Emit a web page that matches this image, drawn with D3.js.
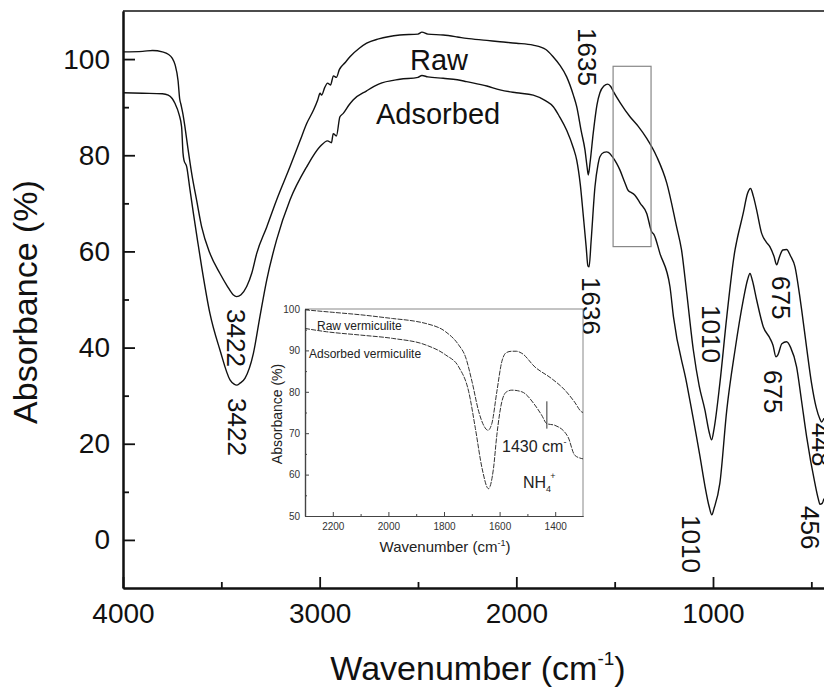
<!DOCTYPE html>
<html>
<head>
<meta charset="utf-8">
<script src="https://cdn.jsdelivr.net/npm/d3@7"></script>
<style>
  html, body { margin: 0; padding: 0; background: #fff; }
  svg { display: block; }
  text { font-family: "Liberation Sans", Arial, sans-serif; }
</style>
</head>
<body>
<svg id="chart" width="824" height="687"></svg>
<script>
// ---------------- DATA ----------------
// Main spectrum: wavenumber (cm-1) and absorbance (%)
const rawWn = [4000,3900,3850,3800,3770,3750,3735,3720,3712,3705,3695,3685,3670,3651,3625,3600,3558,3507,3470,3440,3422,3400,3371,3345,3320,3269,3219,3151,3100,3066,3030,3010,2998,2990,2975,2960,2945,2930,2915,2900,2870,2846,2800,2761,2700,2592,2500,2480,2450,2372,2300,2253,2150,2083,2000,1915,1850,1813,1780,1744,1710,1693,1670,1651,1640,1634,1625,1609,1590,1575,1555,1535,1520,1507,1470,1422,1380,1337,1286,1235,1185,1160,1134,1100,1070,1041,1020,1007,995,965,930,888,880,846,825,809,795,778,753,730,711,690,676,665,645,626,605,583,560,549,524,499,475,457,448,436];
const rawAbs = [101.5,101.6,101.8,101.5,101.0,100.2,98.8,95.5,91.8,90.5,88.5,85.9,81.5,76.3,70.5,65.1,59.6,55.4,52.8,51.0,50.6,51.0,52.7,55.5,59.6,65.1,70.7,77.6,83.0,86.6,89.5,91.5,92.9,92.5,94.0,95.0,94.6,96.5,96.2,97.8,99.3,100.5,102.2,103.3,104.2,105.0,105.2,105.6,105.2,105.0,104.6,104.3,103.9,103.6,103.3,102.9,102.0,100.5,98.8,96.3,92.5,90.1,85.0,81.1,77.5,75.9,78.5,84.6,90.5,93.0,94.4,94.8,94.3,93.3,90.8,88.0,86.0,83.5,79.7,74.2,65.1,60.3,51.5,39.5,32.0,27.0,22.5,20.8,23.0,32.6,46.4,60.3,62.0,68.0,72.0,73.1,71.5,68.6,63.8,62.0,61.0,59.0,57.2,58.5,60.3,60.4,59.0,56.8,51.0,47.8,40.0,32.6,27.5,25.2,24.5,25.3];

const adsWn = [4000,3900,3800,3770,3750,3736,3715,3702,3695,3690,3676,3660,3642,3620,3600,3558,3507,3456,3435,3422,3405,3380,3337,3304,3269,3219,3151,3066,2998,2960,2940,2931,2915,2897,2880,2850,2830,2761,2700,2592,2500,2480,2450,2372,2300,2253,2150,2083,2000,1914,1850,1812,1780,1744,1710,1693,1675,1659,1645,1636,1630,1620,1600,1585,1575,1555,1541,1532,1510,1490,1473,1450,1430,1422,1397,1370,1337,1312,1300,1270,1219,1201,1134,1066,1040,1020,1006,995,965,930,888,846,825,812,800,778,744,710,695,680,670,650,626,605,575,550,524,482,465,456,445,436];
const adsAbs = [93.0,92.9,92.8,92.5,91.8,90.8,88.5,85.9,80.5,79.0,77.6,73.0,67.9,62.0,56.8,47.1,39.5,33.3,32.4,32.2,32.6,33.6,38.8,46.4,54.1,62.4,70.7,77.6,81.8,83.0,82.6,84.5,84.0,88.0,88.7,90.5,91.5,93.4,94.8,95.8,96.2,96.6,96.3,96.0,95.7,95.3,94.4,93.6,93.0,92.5,91.3,90.1,88.0,85.2,81.5,79.0,74.0,67.2,61.0,57.0,56.8,62.0,73.5,78.0,79.7,80.6,80.7,80.6,79.6,78.3,76.9,74.5,72.6,72.4,71.7,70.0,67.9,64.1,63.5,59.6,52.7,46.4,32.6,17.3,11.0,7.0,5.2,6.5,11.8,27.0,39.5,49.9,54.0,55.4,54.0,49.9,44.3,41.9,40.5,38.1,38.5,40.8,41.2,40.0,36.0,29.0,21.5,11.8,8.6,7.4,7.6,8.6];

// Inset spectrum (2300-1300 cm-1)
const insetRawWn  = [2300,2200,2100,1985,1900,1865,1794,1747,1723,1699,1675,1655,1642,1628,1610,1592,1575,1556,1540,1520,1473,1413,1365,1330,1306,1300];
const insetRawAbs = [99.8,99.2,98.6,97.7,97.0,96.5,94.5,91.3,88.5,82.4,75.2,71.6,70.7,72.3,80.0,87.3,89.5,89.8,89.8,89.3,86.0,83.2,80.4,77.5,75.2,75.0];
const insetAdsWn  = [2300,2222,2100,1985,1865,1794,1747,1711,1687,1663,1640,1622,1610,1592,1575,1556,1520,1473,1449,1430,1401,1354,1330,1306,1300];
const insetAdsAbs = [95.3,94.5,93.7,92.9,91.3,88.9,86.0,80.0,71.1,61.5,56.6,61.5,69.5,77.6,80.0,80.4,80.0,76.8,74.4,72.3,71.9,69.1,64.7,63.9,63.8];
const insetMarkWn = 1430;
const insetMarkAbs = [71.1, 77.7];

// Ticks
const xMajorTicks = [4000,3000,2000,1000];
const xMinorTicks = [3500,2500,1500,500];
const yMajorTicks = [0,20,40,60,80,100];
const yMinorTicks = [10,30,50,70,90];
const insetXMajor = [2200,2000,1800,1600,1400];
const insetXMinor = [2100,1900,1700,1500];
const insetYMajor = [50,60,70,80,90,100];
const insetYMinor = [55,65,75,85,95];

// Labels
const seriesNames = ["Raw","Adsorbed"];
const insetSeriesNames = ["Raw vermiculite","Adsorbed vermiculite"];
const peakLabels = ["3422","3422","1635","1636","1010","1010","675","675","448","456"];
const xTitle = "Wavenumber (cm";
const yTitle = "Absorbance (%)";

// ---------------- DRAW ----------------
(function () {
const svg = d3.select("#chart");
const pL = 123, pB = 588, pT = 11, pR = 831;

const x = d3.scaleLinear().domain([4000, 400]).range([pL, pR]);
const y = d3.scaleLinear().domain([-10, 110]).range([pB, pT]);

svg.append("defs").append("clipPath").attr("id", "plotClip")
  .append("rect").attr("x", pL).attr("y", pT).attr("width", pR - pL).attr("height", pB - pT);

// top border
svg.append("line").attr("x1", pL).attr("x2", pR).attr("y1", y(110)).attr("y2", y(110))
  .attr("stroke", "#111").attr("stroke-width", 1.6);

function styleAxis(g, fs) {
  g.selectAll("path.domain").attr("stroke", "#111").attr("stroke-width", 2);
  g.selectAll(".tick line").attr("stroke", "#111").attr("stroke-width", 1.8);
  g.selectAll(".tick text").attr("fill", "#111").style("font-size", fs + "px")
    .style("font-family", '"Liberation Sans", Arial, sans-serif');
}
styleAxis(svg.append("g").attr("transform", `translate(${pL},0)`)
  .call(d3.axisLeft(y).tickValues(yMajorTicks).tickSize(-12).tickSizeOuter(0).tickPadding(13).tickFormat(d3.format("d"))), 28);
styleAxis(svg.append("g").attr("transform", `translate(${pL},0)`)
  .call(d3.axisLeft(y).tickValues(yMinorTicks).tickSize(-6).tickSizeOuter(0).tickFormat("")), 28);
styleAxis(svg.append("g").attr("transform", `translate(0,${pB})`)
  .call(d3.axisBottom(x).tickValues(xMajorTicks).tickSize(-11).tickSizeOuter(0).tickPadding(15).tickFormat(d3.format("d"))), 28);
styleAxis(svg.append("g").attr("transform", `translate(0,${pB})`)
  .call(d3.axisBottom(x).tickValues(xMinorTicks).tickSize(-6).tickSizeOuter(0).tickFormat("")), 28);

// curves
const line = d3.line().x(d => x(d[0])).y(d => y(d[1])).curve(d3.curveMonotoneX);
const plot = svg.append("g").attr("clip-path", "url(#plotClip)");
plot.append("path").datum(rawWn.map((w, i) => [w, rawAbs[i]]))
  .attr("d", line).attr("fill", "none").attr("stroke", "#111").attr("stroke-width", 1.4);
plot.append("path").datum(adsWn.map((w, i) => [w, adsAbs[i]]))
  .attr("d", line).attr("fill", "none").attr("stroke", "#111").attr("stroke-width", 1.4);

// highlight rectangle
svg.append("rect").attr("x", x(1508)).attr("y", y(98.5)).attr("width", x(1315) - x(1508)).attr("height", y(61) - y(98.5))
  .attr("fill", "none").attr("stroke", "#888").attr("stroke-width", 1.2);

// series labels
svg.append("text").attr("x", 410).attr("y", 70).style("font-size", "29px").attr("fill", "#111").text(seriesNames[0]);
svg.append("text").attr("x", 376).attr("y", 124).style("font-size", "29px").attr("fill", "#111").text(seriesNames[1]);

// peak labels, rotated 90deg
const peakPos = [[227,309],[228,398],[578,28],[582,277],[702,305],[682,515],[772,276],[764,370],[812,423],[801,506]];
peakLabels.forEach((t, i) => {
  svg.append("text").attr("transform", `translate(${peakPos[i][0]},${peakPos[i][1]}) rotate(90)`)
    .style("font-size", "26px").attr("fill", "#111").text(t);
});

// axis titles
const xt = svg.append("text").attr("x", 478).attr("y", 680).attr("text-anchor", "middle")
  .style("font-size", "34px").attr("fill", "#111");
xt.append("tspan").text(xTitle);
xt.append("tspan").attr("dy", -15).style("font-size", "19px").text("-1");
xt.append("tspan").attr("dy", 15).text(")");
svg.append("text").attr("transform", `translate(37,302) rotate(-90)`).attr("text-anchor", "middle")
  .style("font-size", "34px").attr("fill", "#111").text(yTitle);

// ---------------- INSET ----------------
const iL = 305, iR = 583, iT = 309, iB = 516;
const xi = d3.scaleLinear().domain([2300, 1300]).range([iL, iR]);
const yi = d3.scaleLinear().domain([50, 100]).range([iB, iT]);
const inset = svg.append("g");
inset.append("rect").attr("x", iL).attr("y", iT).attr("width", iR - iL).attr("height", iB - iT).attr("fill", "#fff");
inset.append("line").attr("x1", iL).attr("x2", iR).attr("y1", iT).attr("y2", iT).attr("stroke", "#888").attr("stroke-width", 1);
inset.append("line").attr("x1", iR).attr("x2", iR).attr("y1", iT).attr("y2", iB).attr("stroke", "#888").attr("stroke-width", 1);

function styleInset(g) {
  g.selectAll("path.domain").attr("stroke", "#444").attr("stroke-width", 1.2);
  g.selectAll(".tick line").attr("stroke", "#444").attr("stroke-width", 1);
  g.selectAll(".tick text").attr("fill", "#333").style("font-size", "10px")
    .style("font-family", '"Liberation Sans", Arial, sans-serif');
}
styleInset(inset.append("g").attr("transform", `translate(${iL},0)`)
  .call(d3.axisLeft(yi).tickValues(insetYMajor).tickSize(-4).tickSizeOuter(0).tickPadding(5).tickFormat(d3.format("d"))));
styleInset(inset.append("g").attr("transform", `translate(${iL},0)`)
  .call(d3.axisLeft(yi).tickValues(insetYMinor).tickSize(-2).tickSizeOuter(0).tickFormat("")));
styleInset(inset.append("g").attr("transform", `translate(0,${iB})`)
  .call(d3.axisBottom(xi).tickValues(insetXMajor).tickSize(-4).tickSizeOuter(0).tickPadding(7).tickFormat(d3.format("d"))));
styleInset(inset.append("g").attr("transform", `translate(0,${iB})`)
  .call(d3.axisBottom(xi).tickValues(insetXMinor).tickSize(-2).tickSizeOuter(0).tickFormat("")));

const iline = d3.line().x(d => xi(d[0])).y(d => yi(d[1])).curve(d3.curveMonotoneX);
inset.append("path").datum(insetRawWn.map((w, i) => [w, insetRawAbs[i]]))
  .attr("d", iline).attr("fill", "none").attr("stroke", "#333").attr("stroke-width", 1).attr("stroke-dasharray", "5,1.2");
inset.append("path").datum(insetAdsWn.map((w, i) => [w, insetAdsAbs[i]]))
  .attr("d", iline).attr("fill", "none").attr("stroke", "#333").attr("stroke-width", 1).attr("stroke-dasharray", "5,1.2");
inset.append("line").attr("x1", xi(insetMarkWn)).attr("x2", xi(insetMarkWn))
  .attr("y1", yi(insetMarkAbs[0])).attr("y2", yi(insetMarkAbs[1])).attr("stroke", "#333").attr("stroke-width", 1);

inset.append("text").attr("x", 317).attr("y", 330).style("font-size", "12px").attr("fill", "#222").text(insetSeriesNames[0]);
inset.append("text").attr("x", 309).attr("y", 358).style("font-size", "12px").attr("fill", "#222").text(insetSeriesNames[1]);

const t1 = inset.append("text").attr("x", 502).attr("y", 452).style("font-size", "16px").attr("fill", "#222");
t1.append("tspan").text("1430 cm");
t1.append("tspan").attr("dy", -7).style("font-size", "9px").text("-");
const t2 = inset.append("text").attr("x", 523).attr("y", 488).style("font-size", "16px").attr("fill", "#222");
t2.append("tspan").text("NH");
t2.append("tspan").attr("dy", 4).style("font-size", "9px").text("4");
t2.append("tspan").attr("dy", -13).attr("dx", -1).style("font-size", "9px").text("+");

const ixt = inset.append("text").attr("x", 445).attr("y", 552).attr("text-anchor", "middle")
  .style("font-size", "15px").attr("fill", "#222");
ixt.append("tspan").text("Wavenumber (cm");
ixt.append("tspan").attr("dy", -6).style("font-size", "9px").text("-1");
ixt.append("tspan").attr("dy", 6).text(")");
inset.append("text").attr("transform", `translate(282,414) rotate(-90)`).attr("text-anchor", "middle")
  .style("font-size", "14px").attr("fill", "#222").text("Absorbance (%)");
})();
</script>
</body>
</html>
